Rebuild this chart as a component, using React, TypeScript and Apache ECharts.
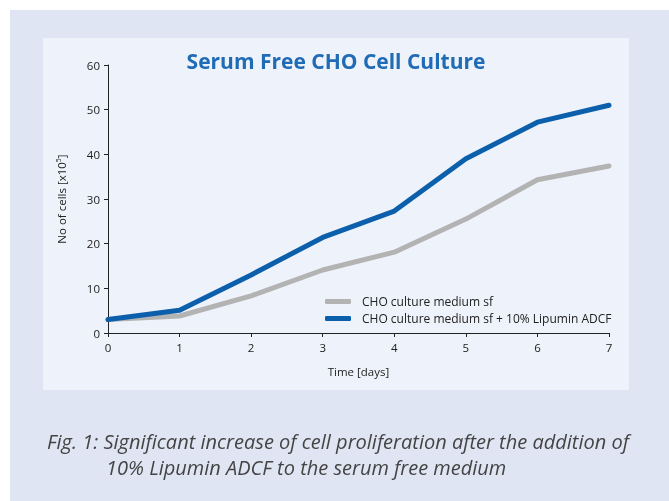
import React, { useEffect, useRef } from "react";
import * as echarts from "echarts";

const days = ["0", "1", "2", "3", "4", "5", "6", "7"];
const mediumSf = [3, 3.8, 8.3, 14.1, 18.1, 25.5, 34.3, 37.4];
const mediumLipumin = [3, 5.1, 13.0, 21.4, 27.3, 39.0, 47.2, 51.0];
const seriesNames = ["CHO culture medium sf", "CHO culture medium sf + 10% Lipumin ADCF"];
const titleText = "Serum Free CHO Cell Culture";
const captionLine1 = "Fig. 1: Significant increase of cell proliferation after the addition of";
const captionLine2 = "10% Lipumin ADCF to the serum free medium";

const FONT = "'Open Sans', 'Noto Sans', sans-serif";

export default function App() {
  const ref = useRef<HTMLDivElement>(null);
  useEffect(() => {
    if (!ref.current) return;
    const chart = echarts.init(ref.current, null, { renderer: "svg" });
    chart.setOption({
      animation: false,
      textStyle: { fontFamily: FONT },
      graphic: [
        { type: "rect", z: -10, silent: true, shape: { x: 10, y: 10, width: 659, height: 491 }, style: { fill: "#dfe5f2" } },
        { type: "rect", z: -9, silent: true, shape: { x: 43, y: 38, width: 586, height: 352 }, style: { fill: "#eef2fa" } },
        { type: "text", x: 336, y: 61, style: { text: titleText, fill: "#1f6bb5", font: `bold 21px ${FONT}`, textAlign: "center", textVerticalAlign: "middle" } },
        { type: "text", x: 47, y: 441, style: { text: captionLine1, fill: "#444", font: `italic 20px ${FONT}`, textVerticalAlign: "middle" } },
        { type: "text", x: 106, y: 467, style: { text: captionLine2, fill: "#444", font: `italic 20px ${FONT}`, textVerticalAlign: "middle" } },
      ],
      legend: {
        orient: "vertical",
        left: 320,
        top: 289,
        itemWidth: 26,
        itemHeight: 5,
        itemGap: 2,
        icon: "roundRect",
        textStyle: { fontSize: 12, lineHeight: 15, color: "#222", fontFamily: FONT, padding: [0, 0, 0, 6] },
        data: seriesNames,
      },
      grid: { left: 108, top: 65, right: 60, bottom: 168 },
      xAxis: {
        type: "category",
        data: days,
        boundaryGap: false,
        name: "Time [days]",
        nameLocation: "middle",
        nameGap: 32,
        nameTextStyle: { fontSize: 11.5, color: "#222" },
        axisLine: { lineStyle: { color: "#222", width: 1 } },
        axisTick: { length: 4, lineStyle: { color: "#222" } },
        axisLabel: { fontSize: 11.5, color: "#222", margin: 8 },
      },
      yAxis: {
        type: "value",
        min: 0,
        max: 60,
        interval: 10,
        name: "{a|No of cells [x10}{s|5}{a|]}",
        nameLocation: "middle",
        nameRotate: 90,
        nameGap: 40,
        nameTextStyle: {
          rich: {
            a: { fontSize: 11.5, color: "#222", fontFamily: FONT },
            s: { fontSize: 7, color: "#222", fontFamily: FONT, verticalAlign: "top", padding: [0, 0, 6, 0] },
          },
        },
        axisLine: { show: true, lineStyle: { color: "#222", width: 1 } },
        axisTick: { show: true, length: 4, lineStyle: { color: "#222" } },
        splitLine: { show: false },
        axisLabel: { fontSize: 11.5, color: "#222", margin: 8 },
      },
      series: [
        {
          name: seriesNames[0],
          type: "line",
          data: mediumSf,
          symbol: "none",
          lineStyle: { color: "#b3b3b3", width: 5, join: "round", cap: "round" },
          itemStyle: { color: "#b3b3b3" },
        },
        {
          name: seriesNames[1],
          type: "line",
          data: mediumLipumin,
          symbol: "none",
          lineStyle: { color: "#0b5fab", width: 5, join: "round", cap: "round" },
          itemStyle: { color: "#0b5fab" },
        },
      ],
    });
    return () => chart.dispose();
  }, []);
  return <div ref={ref} style={{ position: "fixed", left: 0, top: 0, width: 669, height: 501 }} />;
}
